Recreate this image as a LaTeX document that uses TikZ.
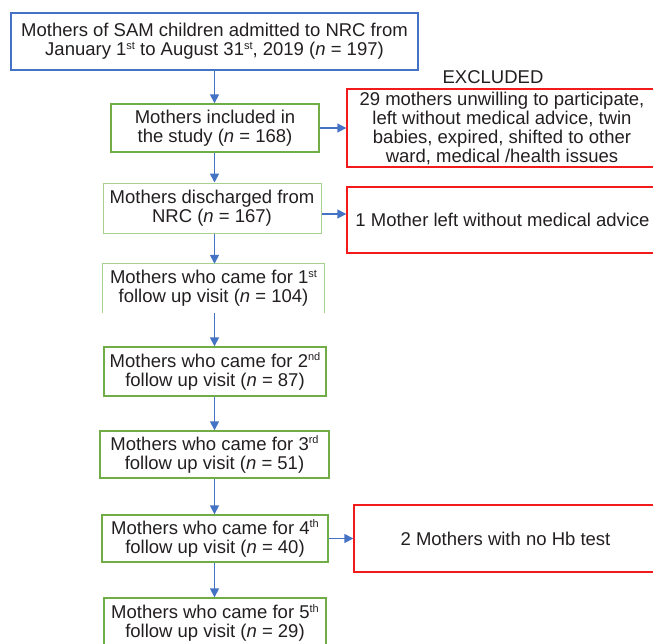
\documentclass[tikz,border=0pt]{standalone}
\usepackage{fontspec}
\setmainfont{Liberation Sans}
\usepackage{xcolor}
\usetikzlibrary{arrows.meta}
\definecolor{boxblue}{HTML}{4472C4}
\definecolor{boxgreen}{HTML}{70AD47}
\definecolor{palegreen}{HTML}{A9D18E}
\definecolor{boxred}{HTML}{F21B1B}
\definecolor{ink}{HTML}{231F20}
\newcommand{\ordsup}[1]{\raisebox{6.5pt}{\fontsize{11pt}{11pt}\selectfont #1}}

\begin{document}
\begin{tikzpicture}[x=1pt, y=-1pt,
        txt/.style={text=ink, align=center, inner sep=1pt,
            font=\fontsize{18.5pt}{19pt}\selectfont},
        bluebox/.style={txt, draw=boxblue, line width=1.4pt},
        greenbox/.style={txt, draw=boxgreen, line width=1.4pt},
        palebox/.style={txt, draw=palegreen, line width=1pt},
        redbox/.style={txt, draw=boxred, line width=1.4pt},
        arr/.style={draw=boxblue, line width=1.6pt,
            -{Triangle[length=9pt, width=9pt]}}]
        \useasboundingbox (0,0) rectangle (653,643);
        \coordinate (axis) at (214.5,0);

        \node[bluebox, minimum width=407, minimum height=57] (intake) at (214.5,41.5)
            {Mothers of SAM children admitted to NRC from\\January 1\ordsup{st} to August 31\ordsup{st}, 2019 (\textit{n} = 197)};
        \node[greenbox, minimum width=208, minimum height=48] (included) at (215,128)
            {Mothers included in\\the study (\textit{n} = 168)};
        \node[palebox, minimum width=218, minimum height=50] (discharged) at (212,208)
            {Mothers discharged from\\NRC (\textit{n} = 167)};
        \node[txt, minimum width=221, minimum height=49] (visit1) at (213.5,288.5)
            {Mothers who came for 1\ordsup{st}\\follow up visit (\textit{n} = 104)};
        \node[greenbox, minimum width=222, minimum height=49] (visit2) at (215,371.5)
            {Mothers who came for 2\ordsup{nd}\\follow up visit (\textit{n} = 87)};
        \node[greenbox, minimum width=229, minimum height=47] (visit3) at (214.5,454.5)
            {Mothers who came for 3\ordsup{rd}\\follow up visit (\textit{n} = 51)};
        \node[greenbox, minimum width=226, minimum height=47] (visit4) at (215,538.5)
            {Mothers who came for 4\ordsup{th}\\follow up visit (\textit{n} = 40)};
        \node[greenbox, minimum width=222, minimum height=50] (visit5) at (215,623)
            {Mothers who came for 5\ordsup{th}\\follow up visit (\textit{n} = 29)};

        \node[txt] (exlabel) at (493,77) {EXCLUDED};
        \node[redbox, minimum width=310, minimum height=78] (excl1) at (502,128)
            {29 mothers unwilling to participate,\\left without medical advice, twin\\babies, expired, shifted to other\\ward, medical /health issues};
        \node[redbox, minimum width=311, minimum height=66] (excl2) at (502.5,220)
            {1 Mother left without medical advice};
        \node[redbox, minimum width=303, minimum height=67] (excl3) at (505.5,538.5)
            {2 Mothers with no Hb test};

        \draw[palegreen, line width=1pt] (visit1.south west) -- (visit1.north west)
            -- (visit1.north east) -- (visit1.south east);

        \draw[arr] (intake.south -| axis) -- (included.north -| axis);
        \draw[arr] (included.south -| axis) -- (discharged.north -| axis);
        \draw[arr] (discharged.south -| axis) -- (visit1.north -| axis);
        \draw[arr] (visit1.south -| axis) -- (visit2.north -| axis);
        \draw[arr] (visit2.south -| axis) -- (visit3.north -| axis);
        \draw[arr] (visit3.south -| axis) -- (visit4.north -| axis);
        \draw[arr] (visit4.south -| axis) -- (visit5.north -| axis);

        \draw[arr] (included.east) -- (included.east -| excl1.west);
        \draw[arr] ([yshift=-6pt]discharged.east) -- ([yshift=-6pt]discharged.east -| excl2.west);
        \draw[arr] (visit4.east) -- (excl3.west);
    \end{tikzpicture}
\end{document}
